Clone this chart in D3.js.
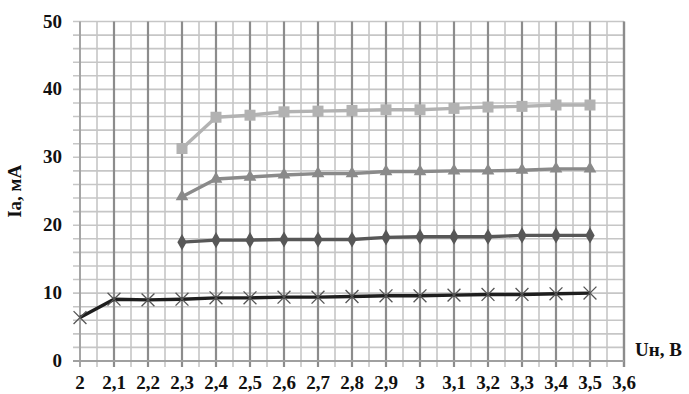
<!DOCTYPE html>
<html>
<head>
<meta charset="utf-8">
<script src="https://cdn.jsdelivr.net/npm/d3@7/dist/d3.min.js"></script>
<style>
  body { margin: 0; background: #fff; }
  text { font-family: "Liberation Serif", "Times New Roman", serif; font-weight: bold; }
</style>
</head>
<body>
<div id="chart"></div>
<script>
const voltage = [2, 2.1, 2.2, 2.3, 2.4, 2.5, 2.6, 2.7, 2.8, 2.9, 3, 3.1, 3.2, 3.3, 3.4, 3.5]
const seriesCross = [6.4, 9.1, 9.0, 9.1, 9.3, 9.3, 9.4, 9.4, 9.5, 9.6, 9.6, 9.7, 9.8, 9.8, 9.9, 10.0]
const seriesDiamond = [null, null, null, 17.5, 17.8, 17.8, 17.9, 17.9, 17.9, 18.2, 18.3, 18.3, 18.3, 18.5, 18.5, 18.5]
const seriesTriangle = [null, null, null, 24.2, 26.8, 27.1, 27.4, 27.6, 27.6, 27.9, 27.9, 28.0, 28.0, 28.1, 28.3, 28.3]
const seriesSquare = [null, null, null, 31.3, 35.9, 36.2, 36.7, 36.8, 36.9, 37.0, 37.0, 37.2, 37.4, 37.5, 37.7, 37.7]
const xTicks = [2, 2.1, 2.2, 2.3, 2.4, 2.5, 2.6, 2.7, 2.8, 2.9, 3, 3.1, 3.2, 3.3, 3.4, 3.5, 3.6]
const yTicks = [0, 10, 20, 30, 40, 50]

const width = 689
const height = 394
const plotLeft = 80, plotRight = 624, plotTop = 21.5, plotBottom = 361

const x = d3.scaleLinear().domain([2, 3.6]).range([plotLeft, plotRight])
const y = d3.scaleLinear().domain([0, 50]).range([plotBottom, plotTop])

const svg = d3.select('#chart').append('svg')
  .attr('width', width)
  .attr('height', height)

const grid = svg.append('g')

// grid: every 0.05 V and every 2 mA, darker lines at each 0.1 V
const xMinor = d3.range(0, 33).map(i => 2 + i * 0.05)
const yMinor = d3.range(0, 26).map(i => i * 2)

grid.selectAll('line.hy')
  .data(yMinor)
  .join('line')
  .attr('x1', plotLeft - 7).attr('x2', plotRight)
  .attr('y1', d => y(d)).attr('y2', d => y(d))
  .attr('stroke', '#c6c6c6')
  .attr('stroke-width', 1.6)

grid.selectAll('line.vx')
  .data(xMinor)
  .join('line')
  .attr('x1', d => x(d)).attr('x2', d => x(d))
  .attr('y1', plotTop).attr('y2', plotBottom + 6)
  .attr('stroke', (d, i) => i % 2 === 0 && i > 0 && i < 32 ? '#8c8c8c' : '#c6c6c6')
  .attr('stroke-width', (d, i) => i % 2 === 0 && i > 0 && i < 32 ? 2.2 : 1.6)

// axis lines and right border
svg.append('line')
  .attr('x1', plotLeft).attr('x2', plotLeft).attr('y1', plotTop).attr('y2', plotBottom + 6)
  .attr('stroke', '#a0a0a0').attr('stroke-width', 1.8)
svg.append('line')
  .attr('x1', plotRight).attr('x2', plotRight).attr('y1', plotTop).attr('y2', plotBottom + 6)
  .attr('stroke', '#8c8c8c').attr('stroke-width', 2.4)
svg.append('line')
  .attr('x1', plotLeft - 7).attr('x2', plotRight).attr('y1', plotBottom).attr('y2', plotBottom)
  .attr('stroke', '#a0a0a0').attr('stroke-width', 1.8)

// tick labels
svg.selectAll('text.ylab')
  .data(yTicks)
  .join('text')
  .attr('x', 62)
  .attr('y', d => y(d) + 6)
  .attr('text-anchor', 'end')
  .attr('font-size', 19)
  .attr('fill', '#111')
  .text(d => d)

svg.selectAll('text.xlab')
  .data(xTicks)
  .join('text')
  .attr('x', d => x(d))
  .attr('y', 389)
  .attr('text-anchor', 'middle')
  .attr('font-size', 19)
  .attr('fill', '#111')
  .text(d => String(d).replace('.', ','))

svg.append('text')
  .attr('transform', `translate(21,${(plotTop + plotBottom) / 2}) rotate(-90)`)
  .attr('text-anchor', 'middle')
  .attr('font-size', 19)
  .attr('fill', '#111')
  .text('Ia, мА')

svg.append('text')
  .attr('x', 635)
  .attr('y', 356)
  .attr('font-size', 19)
  .attr('fill', '#111')
  .text('Uн, В')

const series = [
  { values: seriesSquare, color: '#b2b2b2', marker: 'square' },
  { values: seriesTriangle, color: '#8a8a8a', marker: 'triangle' },
  { values: seriesDiamond, color: '#575757', marker: 'diamond' },
  { values: seriesCross, color: '#1e1e1e', marker: 'cross' }
]

const line = d3.line()
  .x(d => x(d[0]))
  .y(d => y(d[1]))

const symbols = {
  square: d3.symbol().type(d3.symbolSquare).size(121),
  triangle: d3.symbol().type(d3.symbolTriangle).size(70),
  diamond: d3.symbol().type(d3.symbolDiamond).size(75),
  cross: d3.symbol().type(d3.symbolX).size(110)
}

series.forEach(s => {
  const pts = voltage.map((v, i) => [v, s.values[i]]).filter(p => p[1] != null)
  svg.append('path')
    .datum(pts)
    .attr('d', line)
    .attr('fill', 'none')
    .attr('stroke', s.color)
    .attr('stroke-width', 3.4)
    .attr('stroke-linejoin', 'round')

  svg.append('g').selectAll('path')
    .data(pts)
    .join('path')
    .attr('transform', d => `translate(${x(d[0])},${y(d[1])})`)
    .attr('d', symbols[s.marker])
    .attr('fill', s.marker === 'cross' ? 'none' : s.color)
    .attr('stroke', s.marker === 'cross' ? '#555' : 'none')
    .attr('stroke-width', 1.3)
})
</script>
</body>
</html>
